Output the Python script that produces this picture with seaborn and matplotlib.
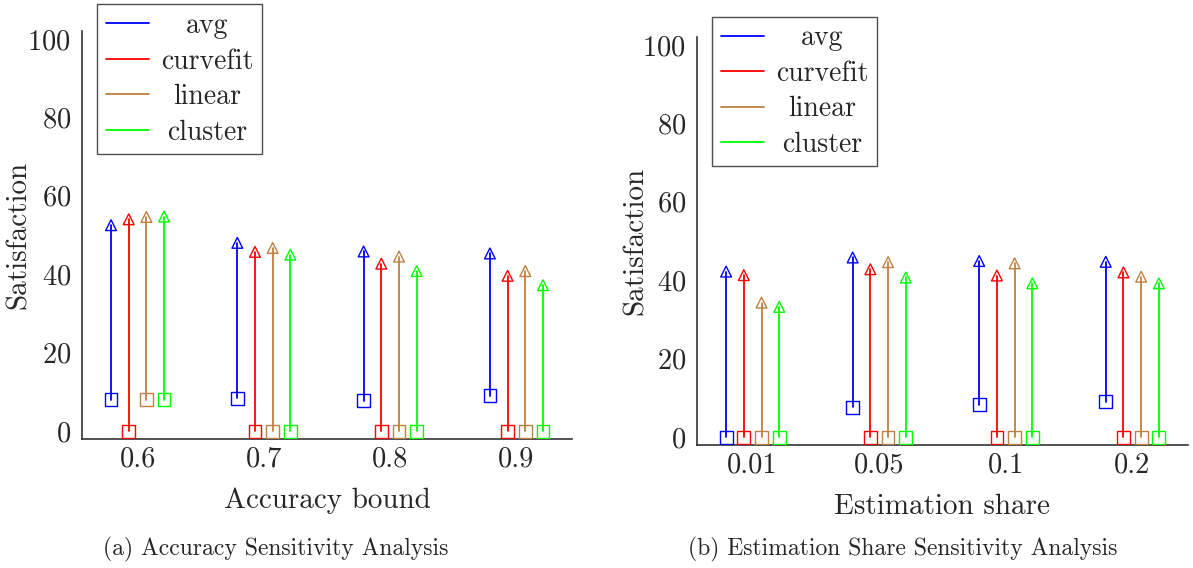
import numpy as np
import pandas as pd
import matplotlib
matplotlib.use("Agg")
import matplotlib.pyplot as plt
from matplotlib.lines import Line2D
import seaborn as sns

sns.set_style("white")
plt.rcParams['font.family'] = ['cmr10', 'DejaVu Serif']
plt.rcParams['mathtext.fontset'] = 'cm'
plt.rcParams['axes.unicode_minus'] = False
plt.rcParams['axes.formatter.use_mathtext'] = True

methods = ["avg", "curvefit", "linear", "cluster"]
colors = ["#0000ff", "#ff0000", "#bf8040", "#00ff00"]

# (a) Accuracy sensitivity
acc_labels = ["0.6", "0.7", "0.8", "0.9"]
acc_low = {
    "avg":      [8.0, 8.4, 7.8, 9.0],
    "curvefit": [0, 0, 0, 0],
    "linear":   [8.0, 0, 0, 0],
    "cluster":  [8.0, 0, 0, 0],
}
acc_high = {
    "avg":      [52.5, 48.0, 45.8, 45.3],
    "curvefit": [54.0, 45.7, 42.7, 39.6],
    "linear":   [54.6, 46.7, 44.5, 40.8],
    "cluster":  [54.7, 45.0, 40.8, 37.2],
}

# (b) Estimation share sensitivity
est_labels = ["0.01", "0.05", "0.1", "0.2"]
est_low = {
    "avg":      [0, 7.6, 8.3, 9.0],
    "curvefit": [0, 0, 0, 0],
    "linear":   [0, 0, 0, 0],
    "cluster":  [0, 0, 0, 0],
}
est_high = {
    "avg":      [42.2, 45.8, 44.9, 44.7],
    "curvefit": [41.3, 42.8, 41.2, 42.0],
    "linear":   [34.3, 44.6, 44.3, 40.9],
    "cluster":  [33.2, 40.7, 39.2, 39.2],
}

W, H = 1193, 568
fig = plt.figure(figsize=(W / 100, H / 100), dpi=100)


def px_axes(x0, y0, x1, y1):
    return fig.add_axes([x0 / W, 1 - y1 / H, (x1 - x0) / W, (y1 - y0) / H])


def build_df(labels, low, high):
    rows = []
    for mi, m in enumerate(methods):
        for gi, lab in enumerate(labels):
            rows.append(dict(method=m, group=gi, mi=mi, low=low[m][gi], high=high[m][gi]))
    return pd.DataFrame(rows)


def draw(ax, labels, low, high, xlabel, caption_x, caption, leg_anchor, ylab_x):
    df = build_df(labels, low, high)
    step = 0.14
    df["x"] = df["group"] + (df["mi"] - 1.5) * step
    seg = pd.concat([
        df.assign(value=df["low"], end="low"),
        df.assign(value=df["high"], end="high"),
    ])
    seg["unit"] = seg["method"] + "_" + seg["group"].astype(str)
    pal = dict(zip(methods, colors))
    sns.lineplot(data=seg, x="x", y="value", hue="method", units="unit",
                 estimator=None, palette=pal, lw=1.3, legend=False, ax=ax,
                 sort=False)
    for end, mk, ms in [("low", "s", 85), ("high", "^", 60)]:
        sub = seg[seg["end"] == end]
        sns.scatterplot(data=sub, x="x", y="value", hue="method", palette=pal,
                        marker=mk, s=ms, legend=False, ax=ax, zorder=3,
                        linewidth=1.0)
        coll = ax.collections[-1]
        fc = coll.get_facecolor()
        coll.set_edgecolor(fc)
        coll.set_facecolor("none")

    ax.set_xlim(-0.44, 3.44)
    ax.set_ylim(-2, 102)
    ax.set_xticks(range(len(labels)))
    ax.set_xticklabels(labels)
    ax.set_yticks([0, 20, 40, 60, 80, 100])
    ax.set_xlabel(xlabel, fontsize=21, labelpad=11)
    ax.set_ylabel("Satisfaction", fontsize=21)
    ax.yaxis.set_label_coords(ylab_x, 0.5)
    ax.tick_params(axis="both", direction="in", length=7, width=1.0,
                   color="#999999", labelsize=20.5)
    ax.tick_params(axis="x", pad=5)
    ax.tick_params(axis="y", pad=8)
    for s in ["top", "right"]:
        ax.spines[s].set_visible(False)
    for s in ["left", "bottom"]:
        ax.spines[s].set_color("#333333")
        ax.spines[s].set_linewidth(1.2)

    handles = [Line2D([0], [0], color=c, lw=1.3) for c in colors]
    leg = ax.legend(handles, methods, loc="upper left", bbox_to_anchor=leg_anchor,
                    borderaxespad=0, fontsize=20, frameon=True, fancybox=False,
                    edgecolor="#222222", handlelength=1.55, handletextpad=0.45,
                    labelspacing=0.33, borderpad=0.3)
    leg.get_frame().set_linewidth(1.0)
    # centre the legend labels as in the original
    r = fig.canvas.get_renderer()
    widths = [t.get_window_extent(r).width for t in leg.get_texts()]
    mw = max(widths)
    for t, w in zip(leg.get_texts(), widths):
        t.set_position(((mw - w) / 2, 0))
    fig.text(caption_x / W, 1 - 549 / H, caption, ha="center", va="center", fontsize=17)


ax1 = px_axes(82, 31, 572, 439)
ax2 = px_axes(697, 37, 1188, 445)
draw(ax1, acc_labels, acc_low, acc_high, "Accuracy bound", 276,
     "(a) Accuracy Sensitivity Analysis", (0.031, 1.065), -0.102)
draw(ax2, est_labels, est_low, est_high, "Estimation share", 903,
     "(b) Estimation Share Sensitivity Analysis", (0.031, 1.05), -0.099)

fig.savefig("out.png", dpi=100)
